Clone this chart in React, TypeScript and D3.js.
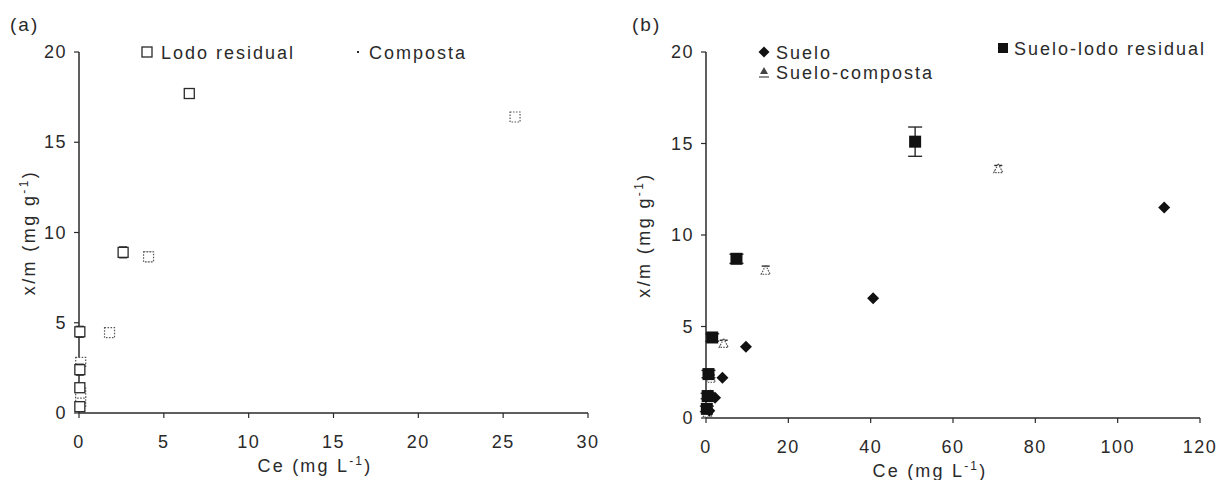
import React from "react";
import * as d3 from "d3";

// Panel (a): amendments alone
const lodoCe = [0.05, 0.05, 0.05, 0.05, 2.6, 6.5];
const lodoQ = [0.35, 1.4, 2.4, 4.5, 8.9, 17.7];
const lodoErr = [0.2, 0.2, 0.3, 0.3, 0.3, 0.25];

const compostaCe = [0.1, 0.1, 0.1, 1.8, 4.1, 25.7];
const compostaQ = [0.6, 1.1, 2.8, 4.45, 8.65, 16.4];
const compostaErr = [0.2, 0.2, 0.2, 0.1, 0.25, 0.2];

// Panel (b): soil and amended soils
const sueloCe = [0.8, 2.2, 4.0, 9.7, 40.6, 111.3];
const sueloQ = [0.4, 1.1, 2.2, 3.9, 6.55, 11.5];

const sueloLodoCe = [0.2, 0.4, 0.6, 1.5, 7.4, 50.8];
const sueloLodoQ = [0.5, 1.2, 2.4, 4.4, 8.7, 15.1];
const sueloLodoErr = [0.15, 0.15, 0.2, 0.2, 0.25, 0.8];

const sueloCompostaCe = [0.4, 1.0, 1.2, 4.3, 14.5, 71.0];
const sueloCompostaQ = [0.3, 1.3, 2.2, 4.1, 8.1, 13.65];
const sueloCompostaErr = [0.1, 0.1, 0.15, 0.15, 0.2, 0.15];

const yTicks = [0, 5, 10, 15, 20];
const xTicksA = [0, 5, 10, 15, 20, 25, 30];
const xTicksB = [0, 20, 40, 60, 80, 100, 120];

const INK = "#2a2a2a";
const FONT = "'Liberation Sans', Arial, sans-serif";

type Marker = "openSquare" | "dashSquare" | "diamond" | "square" | "triangle";

function MarkerShape({ kind, x, y, s }: { kind: Marker; x: number; y: number; s: number }) {
  const h = s / 2;
  if (kind === "openSquare")
    return <rect x={x - h} y={y - h} width={s} height={s} fill="white" stroke={INK} strokeWidth={1.3} />;
  if (kind === "dashSquare")
    return (
      <rect x={x - h} y={y - h} width={s} height={s} fill="white" stroke="#555" strokeWidth={1.2} strokeDasharray="1.5,1.5" />
    );
  if (kind === "square")
    return <rect x={x - h} y={y - h} width={s} height={s} fill="#111" />;
  if (kind === "diamond")
    return <path d={`M${x},${y - h}L${x + h},${y}L${x},${y + h}L${x - h},${y}Z`} fill="#111" />;
  return (
    <path
      d={`M${x},${y - h}L${x + h},${y + h}L${x - h},${y + h}Z`}
      fill="white"
      stroke="#555"
      strokeWidth={1.2}
      strokeDasharray="1.5,1.2"
    />
  );
}

function Series({
  ce, q, err, kind, size, x, y, cap = 4,
}: {
  ce: number[]; q: number[]; err?: number[]; kind: Marker; size: number;
  x: d3.ScaleLinear<number, number>; y: d3.ScaleLinear<number, number>; cap?: number;
}) {
  return (
    <g>
      {ce.map((c, i) => {
        const cx = x(c);
        const cy = y(q[i]);
        const e = err ? err[i] : 0;
        return (
          <g key={i}>
            {e > 0 && (
              <g stroke={INK} strokeWidth={1.4}>
                <line x1={cx} x2={cx} y1={y(q[i] + e)} y2={y(q[i] - e)} />
                <line x1={cx - cap} x2={cx + cap} y1={y(q[i] + e)} y2={y(q[i] + e)} />
                <line x1={cx - cap} x2={cx + cap} y1={y(q[i] - e)} y2={y(q[i] - e)} />
              </g>
            )}
            <MarkerShape kind={kind} x={cx} y={cy} s={size} />
          </g>
        );
      })}
    </g>
  );
}

function Axes({
  x, y, xTicks, labelX, labelYx,
}: {
  x: d3.ScaleLinear<number, number>; y: d3.ScaleLinear<number, number>; xTicks: number[];
  labelX: number; labelYx: number;
}) {
  const [x0, x1] = x.range();
  const [y0, y1] = y.range();
  const textStyle = { fontFamily: FONT, fontSize: 18, letterSpacing: 1.5, fill: INK } as const;
  return (
    <g>
      <line x1={x0} x2={x0} y1={y0} y2={y1} stroke={INK} strokeWidth={1.5} />
      <line x1={x0} x2={x1} y1={y0} y2={y0} stroke={INK} strokeWidth={1.5} />
      {yTicks.map((t) => (
        <g key={"y" + t}>
          <line x1={x0 - 5} x2={x0} y1={y(t)} y2={y(t)} stroke={INK} strokeWidth={1.2} />
          <text x={x0 - 12} y={y(t) + 6} textAnchor="end" style={textStyle}>{t}</text>
        </g>
      ))}
      {xTicks.map((t) => (
        <g key={"x" + t}>
          <line x1={x(t)} x2={x(t)} y1={y0} y2={y0 + 5} stroke={INK} strokeWidth={1.2} />
          <text x={x(t)} y={y0 + 35} textAnchor="middle" style={textStyle}>{t}</text>
        </g>
      ))}
      <text x={labelX} y={y0 + 59} textAnchor="middle" style={{ ...textStyle, letterSpacing: 2.2 }}>
        Ce (mg L<tspan dy={-7} fontSize={12}>-1</tspan><tspan dy={7}>)</tspan>
      </text>
      <text
        transform={`translate(${labelYx},${(y0 + y1) / 2})`+" rotate(-90)"}
        textAnchor="middle"
        style={{ ...textStyle, letterSpacing: 2.4 }}
      >
        x/m (mg g<tspan dy={-7} fontSize={12}>-1</tspan><tspan dy={7}>)</tspan>
      </text>
    </g>
  );
}

export default function App() {
  const xa = d3.scaleLinear().domain([0, 30]).range([79, 588]);
  const ya = d3.scaleLinear().domain([0, 20]).range([413, 52]);
  const xb = d3.scaleLinear().domain([0, 120]).range([706, 1200]);
  const yb = d3.scaleLinear().domain([0, 20]).range([418, 52]);

  const legendStyle = { fontFamily: FONT, fontSize: 18, letterSpacing: 2, fill: INK } as const;
  const panelTag = { fontFamily: FONT, fontSize: 19, letterSpacing: 2, fill: INK } as const;

  return (
    <svg
      width={1221}
      height={480}
      style={{ position: "absolute", left: 0, top: 0, background: "white" }}
    >
      <rect width={1221} height={480} fill="white" />
      {/* (a) */}
      <text x={10} y={31} style={panelTag}>(a)</text>
      <Axes x={xa} y={ya} xTicks={xTicksA} labelX={315} labelYx={35} />
      <Series ce={compostaCe} q={compostaQ} err={compostaErr} kind="dashSquare" size={10} x={xa} y={ya} />
      <Series ce={lodoCe} q={lodoQ} err={lodoErr} kind="openSquare" size={10} x={xa} y={ya} />
      <rect x={142} y={47} width={10} height={10} fill="white" stroke={INK} strokeWidth={1.3} />
      <text x={161} y={59} style={legendStyle}>Lodo residual</text>
      <rect x={357} y={51} width={2} height={2} fill={INK} />
      <text x={369} y={59} style={legendStyle}>Composta</text>

      {/* (b) */}
      <text x={632} y={31} style={panelTag}>(b)</text>
      <Axes x={xb} y={yb} xTicks={xTicksB} labelX={930} labelYx={650} />
      <Series ce={sueloCompostaCe} q={sueloCompostaQ} err={sueloCompostaErr} kind="triangle" size={9} x={xb} y={yb} />
      <Series ce={sueloLodoCe} q={sueloLodoQ} err={sueloLodoErr} kind="square" size={12} cap={7} x={xb} y={yb} />
      <Series ce={sueloCe} q={sueloQ} kind="diamond" size={12} x={xb} y={yb} />
      <MarkerShape kind="diamond" x={764} y={52} s={11} />
      <text x={776} y={59} style={legendStyle}>Suelo</text>
      <path d="M764,67L768,74L760,74Z" fill="#444" />
      <line x1={759} x2={769} y1={77} y2={77} stroke="#444" strokeWidth={1.2} />
      <text x={776} y={79} style={legendStyle}>Suelo-composta</text>
      <rect x={998} y={43} width={10} height={10} fill="#111" />
      <text x={1014} y={55} style={legendStyle}>Suelo-lodo residual</text>
    </svg>
  );
}
